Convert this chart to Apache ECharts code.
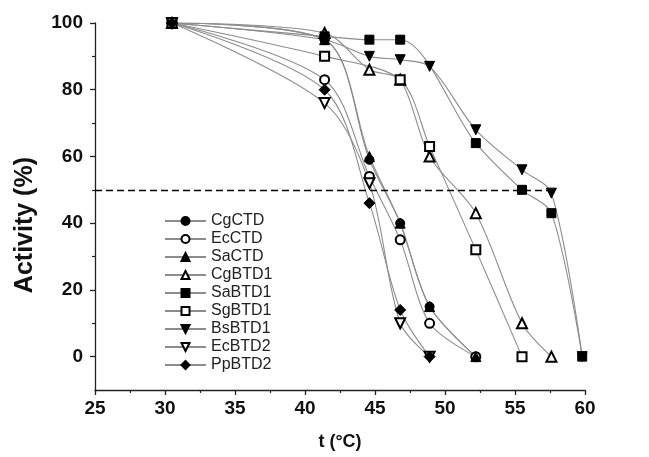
<!DOCTYPE html>
<html>
<head>
<meta charset="utf-8">
<script src="https://cdn.jsdelivr.net/npm/echarts@6/dist/echarts.min.js"></script>
<style>
html,body{margin:0;padding:0;background:#fff;}
#chart{width:649px;height:457px;}
</style>
</head>
<body>
<div id="chart"></div>
<script>
// Temperatures as read against the drawn x axis
var temps = [30.5, 41.4, 44.6, 46.8, 48.9, 52.2, 55.5, 57.6, 59.8];
var names = ['CgCTD','EcCTD','SaCTD','CgBTD1','SaBTD1','SgBTD1','BsBTD1','EcBTD2','PpBTD2'];
var CgCTD  = [100, 95, 59, 40, 15, 0, null, null, null];
var EcCTD  = [100, 83, 54, 35, 10, 0, null, null, null];
var SaCTD  = [100, 95, 60, 40, 15, 0, null, null, null];
var CgBTD1 = [100, 97, 86, 83, 60, 43, 10, 0, null];
var SaBTD1 = [100, 96, 95, 95, null, 64, 50, 43, 0];
var SgBTD1 = [100, 90, null, 83, 63, 32, 0, null, null];
var BsBTD1 = [100, 95, 90, 89, 87, 68, 56, 49, 0];
var EcBTD2 = [100, 76, 52, 10, 0, null, null, null, null];
var PpBTD2 = [100, 80, 46, 14, 0, null, null, null, null];
var xTicks = [25, 30, 35, 40, 45, 50, 55, 60];
var yTicks = [0, 20, 40, 60, 80, 100];
var yMinor = [10, 30, 50, 70, 90];
var threshold = 50;

var values = [CgCTD, EcCTD, SaCTD, CgBTD1, SaBTD1, SgBTD1, BsBTD1, EcBTD2, PpBTD2];
var symbols = ['circle','emptyCircle','triangle','emptyTriangle','rect','emptyRect','triangle','emptyTriangle','diamond'];
var rotates = [0,0,0,0,0,0,180,180,0];
var sizes = [9,9,10,10,9,9,10,10,11];

function pairs(arr){
  var out = [];
  for (var i = 0; i < arr.length; i++) if (arr[i] !== null) out.push([temps[i], arr[i]]);
  return out;
}

var series = names.map(function(n, k){
  var s = {
    name: n, type: 'line', data: pairs(values[k]), smooth: 0.3,
    symbol: symbols[k], symbolRotate: rotates[k], symbolSize: sizes[k],
    showAllSymbol: true, yAxisIndex: 0,
    lineStyle: {color: '#8c8c8c', width: 1.1},
    itemStyle: {color: '#000', borderColor: '#000', borderWidth: 1},
    emphasis: {disabled: true}, z: 3
  };
  if (k === 0) {
    s.markLine = {
      silent: true, symbol: 'none', label: {show: false},
      lineStyle: {color: '#000', type: [7, 4], width: 1.3},
      data: [[{coord: [xTicks[0], threshold]}, {coord: [58, threshold]}]]
    };
  }
  return s;
});

var chart = echarts.init(document.getElementById('chart'));
chart.setOption({
  animation: false,
  backgroundColor: '#fff',
  grid: {left: 95, right: 64, top: 23, bottom: 67, containLabel: false},
  legend: {
    orient: 'vertical', left: 159, top: 208,
    itemWidth: 41, itemHeight: 10, itemGap: 2,
    textStyle: {fontFamily: 'Liberation Sans, Arial', fontSize: 16, color: '#222', lineHeight: 16},
    data: names
  },
  xAxis: {
    type: 'value', min: 25, max: 60, interval: 5,
    name: 't (°C)', nameLocation: 'middle', nameGap: 43,
    nameTextStyle: {fontFamily: 'Liberation Sans, Arial', fontWeight: 'bold', fontSize: 18, color: '#111'},
    axisLine: {show: true, onZero: false, lineStyle: {color: '#222', width: 1.3}},
    axisTick: {show: true, length: 5, inside: false, lineStyle: {color: '#222', width: 1.3}},
    minorTick: {show: true, splitNumber: 2, length: 3, lineStyle: {color: '#222', width: 1.2}},
    axisLabel: {fontFamily: 'Liberation Sans, Arial', fontWeight: 'bold', fontSize: 19, color: '#111', margin: 9},
    splitLine: {show: false}
  },
  yAxis: [{
    type: 'value', min: -10, max: 100, interval: 10,
    axisLine: {show: true, onZero: false, lineStyle: {color: '#222', width: 1.3}},
    axisTick: {show: true, length: 5, customValues: yTicks, lineStyle: {color: '#222', width: 1.3}},
    axisLabel: {customValues: yTicks, fontFamily: 'Liberation Sans, Arial', fontWeight: 'bold', fontSize: 19, color: '#111', margin: 12},
    splitLine: {show: false}
  }, {
    type: 'value', min: -10, max: 100, interval: 10, position: 'left',
    axisLine: {show: false},
    axisTick: {show: true, length: 3, customValues: yMinor, lineStyle: {color: '#222', width: 1.2}},
    axisLabel: {show: false},
    splitLine: {show: false}
  }],
  graphic: [{
    type: 'text', left: 13, top: 157, rotation: Math.PI / 2,
    style: {text: 'Activity (%)', font: 'bold 25px "Liberation Sans", Arial', fill: '#111'}
  }],
  series: series
});
</script>
</body>
</html>
